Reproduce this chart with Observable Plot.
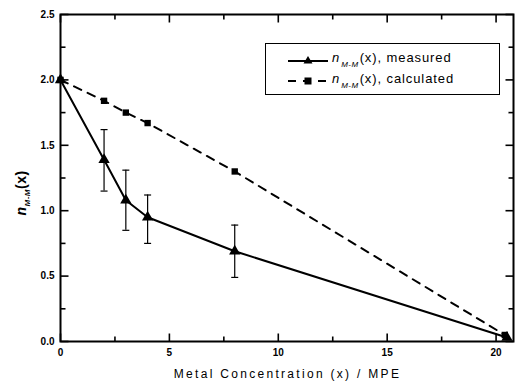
<!DOCTYPE html>
<html>
<head>
<meta charset="utf-8">
<script src="https://cdn.jsdelivr.net/npm/d3@7"></script>
<script src="https://cdn.jsdelivr.net/npm/@observablehq/plot@0.6"></script>
<style>
  body { margin: 0; background: #fff; }
  #wrap { position: relative; width: 515px; height: 385px; font-family: "Liberation Sans", Arial, sans-serif; }
  #legend { position: absolute; left: 265px; top: 43px; width: 233px; height: 50px; border: 1.5px solid #000; background: #fff; }
  .row { position: absolute; left: 22px; display: flex; align-items: center; font-size: 13px; letter-spacing: 0.9px; }
  .row svg { margin-right: 4px; }
  .row sub { font-size: 8px; vertical-align: -5px; letter-spacing: 0.5px; margin: 0 1px; }
  #ylab { position: absolute; left: 22px; top: 193px; transform: translate(-50%, -50%) rotate(-90deg); font-size: 14px; font-weight: bold; white-space: nowrap; letter-spacing: 0.5px; }
  #xlab { position: absolute; left: 0; width: 575px; top: 367px; text-align: center; font-size: 12px; letter-spacing: 2.3px; }
  sub { font-size: 8px; font-style: italic; vertical-align: -4px; }
</style>
</head>
<body>
<div id="wrap">
  <div id="chart"></div>
  <div id="ylab"><i>n</i><sub>M-M</sub>(x)</div>
  <div id="xlab">Metal Concentration (x) / MPE</div>
  <div id="legend">
    <div class="row" style="top:6px">
      <svg width="40" height="12"><line x1="0" y1="7" x2="40" y2="7" stroke="#000" stroke-width="2"/><path d="M20,2 L24.5,9.5 L15.5,9.5Z" fill="#000"/></svg>
      <span><i>n</i><sub>M-M</sub>(x), measured</span>
    </div>
    <div class="row" style="top:27px">
      <svg width="40" height="12"><line x1="0" y1="6" x2="40" y2="6" stroke="#000" stroke-width="2" stroke-dasharray="8,7"/><rect x="16.5" y="2.5" width="7" height="7" fill="#000"/></svg>
      <span><i>n</i><sub>M-M</sub>(x), calculated</span>
    </div>
  </div>
</div>
<script>
const xMeasured = [0, 2, 3, 4, 8, 20.5];
const yMeasured = [2.0, 1.39, 1.08, 0.95, 0.69, 0.03];
const errLow    = [null, 1.15, 0.85, 0.75, 0.49, null];
const errHigh   = [null, 1.62, 1.31, 1.12, 0.89, null];
const xCalc = [0, 2, 3, 4, 8, 20.4];
const yCalc = [2.0, 1.84, 1.75, 1.67, 1.30, 0.05];
const xDomain = [0, 20.8];
const yDomain = [0, 2.5];
const xTicks = [0, 5, 10, 15, 20];
const xMinor = [2.5, 7.5, 12.5, 17.5];
const yTicks = [0, 0.5, 1.0, 1.5, 2.0, 2.5];
const yMinor = [0.25, 0.75, 1.25, 1.75, 2.25];

const measured = xMeasured.map((x, i) => ({x, y: yMeasured[i], lo: errLow[i], hi: errHigh[i]}));
const calc = xCalc.map((x, i) => ({x, y: yCalc[i]}));
const errs = measured.filter(d => d.lo != null);

const cap = {draw(ctx) { const w = 3.5; ctx.moveTo(-w, 0); ctx.lineTo(w, 0); }};
const seg = (dx, dy) => ({draw(ctx) { ctx.moveTo(0, 0); ctx.lineTo(dx, dy); }});
const MAJ = 8, MIN = 5;
const tk = {stroke: "#000", strokeWidth: 1.6};

function ticksX(values, len) {
  return [
    Plot.dot(values, {x: d => d, y: () => yDomain[0], symbol: seg(0, -len), ...tk}),
    Plot.dot(values, {x: d => d, y: () => yDomain[1], symbol: seg(0, len), ...tk})
  ];
}
function ticksY(values, len) {
  return [
    Plot.dot(values, {y: d => d, x: () => xDomain[0], symbol: seg(len, 0), ...tk}),
    Plot.dot(values, {y: d => d, x: () => xDomain[1], symbol: seg(-len, 0), ...tk})
  ];
}

const chart = Plot.plot({
  width: 515, height: 385,
  marginLeft: 60, marginRight: 2, marginTop: 14, marginBottom: 44,
  style: {fontFamily: "Liberation Sans, Arial, sans-serif", fontSize: "10px"},
  x: {domain: xDomain, label: null},
  y: {domain: yDomain, label: null},
  marks: [
    Plot.axisX(xTicks, {anchor: "bottom", tickSize: 0, tickPadding: 7, tickFormat: d => d, fontWeight: "bold"}),
    Plot.axisY(yTicks, {anchor: "left", tickSize: 0, tickPadding: 6, tickFormat: d => d.toFixed(1), fontWeight: "bold"}),
    ...ticksX(xTicks, MAJ),
    ...ticksX(xMinor, MIN),
    ...ticksY(yTicks, MAJ),
    ...ticksY(yMinor, MIN),
    Plot.line(calc, {x: "x", y: "y", stroke: "#000", strokeWidth: 2, strokeDasharray: "8,7"}),
    Plot.dot(calc, {x: "x", y: "y", symbol: "square", r: 3.6, fill: "#000"}),
    Plot.ruleX(errs, {x: "x", y1: "lo", y2: "hi", stroke: "#000", strokeWidth: 1.2}),
    Plot.dot(errs, {x: "x", y: "lo", symbol: cap, stroke: "#000", strokeWidth: 1.2}),
    Plot.dot(errs, {x: "x", y: "hi", symbol: cap, stroke: "#000", strokeWidth: 1.2}),
    Plot.line(measured, {x: "x", y: "y", stroke: "#000", strokeWidth: 2}),
    Plot.dot(measured, {x: "x", y: "y", symbol: "triangle", r: 4.2, fill: "#000"}),
    Plot.frame({stroke: "#000", strokeWidth: 2})
  ]
});
document.getElementById("chart").appendChild(chart);
</script>
</body>
</html>
